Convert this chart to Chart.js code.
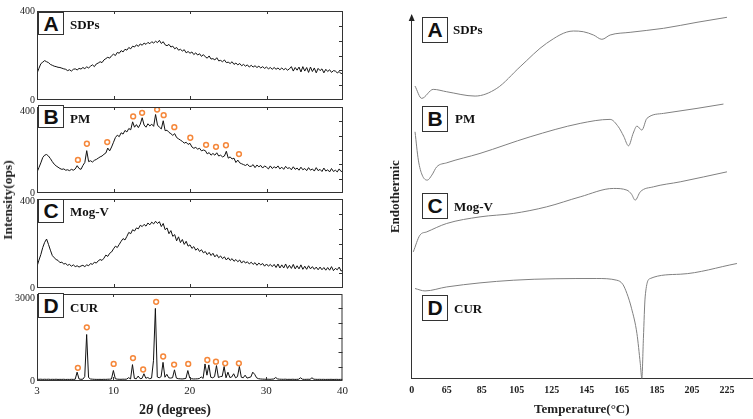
<!DOCTYPE html>
<html>
<head>
<meta charset="utf-8">
<script src="https://cdn.jsdelivr.net/npm/chart.js@4.4.1/dist/chart.umd.min.js"></script>
<style>
body{margin:0;background:#fff;}
#wrap{position:relative;width:753px;height:419px;overflow:hidden;background:#fff;}
canvas{position:absolute;}
.box{position:absolute;box-sizing:border-box;border:1px solid #333;background:#fff;font:bold 21px "Liberation Sans",Arial,sans-serif;color:#111;display:flex;align-items:center;justify-content:center;}
.name{position:absolute;font:bold 13px "Liberation Serif","Times New Roman",serif;color:#111;line-height:1;transform:translateY(-50%);white-space:nowrap;}
.axtitle{position:absolute;font:bold 14px "Liberation Serif","Times New Roman",serif;color:#222;white-space:nowrap;transform:translate(-50%,-50%);}
</style>
</head>
<body>
<div id="wrap">
<canvas id="xrdA" width="352" height="105" style="left:0;top:3px"></canvas>
<canvas id="xrdB" width="352" height="105" style="left:0;top:96px"></canvas>
<canvas id="xrdC" width="352" height="105" style="left:0;top:191px"></canvas>
<canvas id="xrdD" width="352" height="135" style="left:0;top:284px"></canvas>
<canvas id="dsc" width="373" height="419" style="left:380px;top:0"></canvas>

<div class="box" style="left:38px;top:12px;width:26px;height:23px">A</div>
<div class="name" style="left:70px;top:24px">SDPs</div>
<div class="box" style="left:38px;top:105px;width:26px;height:23px">B</div>
<div class="name" style="left:70px;top:118px">PM</div>
<div class="box" style="left:38px;top:199px;width:26px;height:24px">C</div>
<div class="name" style="left:70px;top:211px">Mog-V</div>
<div class="box" style="left:38px;top:293px;width:26px;height:25px">D</div>
<div class="name" style="left:70px;top:307px">CUR</div>

<div class="box" style="left:422px;top:17px;width:26px;height:26px">A</div>
<div class="name" style="left:453px;top:29px">SDPs</div>
<div class="box" style="left:422px;top:106px;width:26px;height:26px">B</div>
<div class="name" style="left:455px;top:118px">PM</div>
<div class="box" style="left:422px;top:193px;width:26px;height:26px">C</div>
<div class="name" style="left:454px;top:206px">Mog-V</div>
<div class="box" style="left:422px;top:295px;width:26px;height:26px">D</div>
<div class="name" style="left:454px;top:308px">CUR</div>

<div class="axtitle" style="left:8px;top:200px;transform:translate(-50%,-50%) rotate(-90deg);font-size:13.5px">Intensity(ops)</div>
<div class="axtitle" style="left:175px;top:410px">2<i>θ</i> (degrees)</div>
</div>

<script>
const serif = '"Liberation Serif","Times New Roman",serif';

// XRD: shared 2-theta grid (axis units), tick labels as printed
const xrdTicks = [0, 10, 20, 30, 40];
const xrdTickLabels = ['3', '10', '20', '30', '40'];
const xrdAngles = [
  0,0.25,0.5,0.75,1,1.25,1.5,1.75,2,2.25,2.5,2.75,3,3.25,3.5,3.75,4,4.25,4.5,4.75,
  5,5.25,5.5,5.75,6,6.25,6.5,6.75,7,7.25,7.5,7.75,8,8.25,8.5,8.75,9,9.25,9.5,9.75,
  10,10.25,10.5,10.75,11,11.25,11.5,11.75,12,12.25,12.5,12.75,13,13.25,13.5,13.75,14,14.25,14.5,14.75,
  15,15.25,15.5,15.75,16,16.25,16.5,16.75,17,17.25,17.5,17.75,18,18.25,18.5,18.75,19,19.25,19.5,19.75,
  20,20.25,20.5,20.75,21,21.25,21.5,21.75,22,22.25,22.5,22.75,23,23.25,23.5,23.75,24,24.25,24.5,24.75,
  25,25.25,25.5,25.75,26,26.25,26.5,26.75,27,27.25,27.5,27.75,28,28.25,28.5,28.75,29,29.25,29.5,29.75,
  30,30.25,30.5,30.75,31,31.25,31.5,31.75,32,32.25,32.5,32.75,33,33.25,33.5,33.75,34,34.25,34.5,34.75,
  35,35.25,35.5,35.75,36,36.25,36.5,36.75,37,37.25,37.5,37.75,38,38.25,38.5,38.75,39,39.25,39.5,39.75,
  40
];

const sdpsXrd = [
  120,142,163,170, 177,172,168,160, 156,152,150,147, 146,143,140,138, 132,136,130,138,
  140,135,142,139, 146,141,149,144, 152,158,150,162, 166,172,168,180, 186,192,188,199,
  206,200,214,210, 222,216,228,224, 236,230,242,238, 248,241,252,246, 256,250,259,253,
  262,256,264,258, 268,254,262,248, 244,250,238,242, 230,236,224,228, 220,226,212,218,
  210,216,204,212, 202,208,196,204, 194,188,198,184, 186,180,190,176, 178,172,180,168,
  170,164,172,160, 166,158,164,154, 160,152,158,148, 156,148,154,146, 152,144,150,142,
  148,140,146,138, 146,138,144,136, 144,136,142,134, 140,150,130,146, 134,148,126,150,
  130,146,124,148, 128,144,122,142, 132,140,122,138, 128,136,124,132, 130,122,128,118,
  124
];

const pmXrd = [
  97,118,140,165, 176,179,172,160, 146,134,126,120, 114,110,112,106, 108,104,110,106,
  112,127,114,110, 128,142,197,146, 150,144,152,156, 162,168,172,180, 186,209,196,214,
  236,258,269,262, 280,274,291,284, 300,294,331,306, 318,304,320,350, 316,306,322,312,
  320,310,365,316, 306,298,336,290, 292,282,276,268, 276,258,252,246, 240,232,236,226,
  231,214,208,212, 204,208,196,200, 197,182,188,176, 184,176,187,172, 176,168,172,194,
  162,168,158,162, 142,153,140,136, 132,128,134,124, 124,132,118,130, 122,128,116,126,
  120,112,126,114, 122,116,126,112, 120,110,124,114, 118,108,122,110, 116,106,120,108,
  114,104,118,106, 112,102,118,104, 110,100,116,102, 108,98,114,100, 106,98,112,100,
  102
];

const mogXrd = [
  97,125,150,182, 205,220,196,170, 146,136,128,124, 114,116,108,110, 102,106,98,104,
  96,100,94,99, 102,96,104,100, 110,106,116,112, 122,128,124,134, 148,142,156,162,
  176,188,182,196, 210,222,216,232, 250,244,262,256, 270,266,282,276, 286,278,292,284,
  296,288,300,290, 298,276,290,262, 270,244,258,232, 240,212,230,204, 218,196,210,188,
  194,178,186,170, 178,164,172,158, 164,150,160,146, 156,140,150,136, 144,132,140,126,
  136,124,132,120, 128,118,126,112, 122,112,118,108, 116,106,114,102, 112,104,110,98,
  108,98,106,96, 106,92,108,90, 104,90,108,88, 102,88,106,86, 100,86,104,84,
  98,84,100,86, 96,84,94,82, 94,82,92,80, 92,80,96,78, 88,82,94,76,
  82
];

const curXrd = [
  60,58,62,56, 60,57,61,55, 58,56,60,54, 57,55,59,53, 56,54,58,55,
  60,304,70,58, 62,150,1603,120, 70,62,58,56, 55,57,54,58, 56,60,62,68,
  362,80,64,60, 58,62,60,66, 115,70,565,90, 75,170,80,90, 250,95,120,80,
  100,700,2503,140, 110,150,643,130, 230,110,100,115, 385,100,80,75, 70,78,90,360,
  100,78,70,72, 75,85,140,90, 588,200,555,130, 110,150,531,120, 150,160,497,110,
  304,120,140,250, 110,150,497,130, 110,200,100,120, 140,304,230,110, 80,70,65,62,
  60,62,58,64, 70,120,72,62, 60,58,62,56, 58,56,60,55, 57,60,110,62,
  56,58,60,57, 110,62,58,56, 58,55,57,54, 56,55,58,54, 55,57,54,56,
  55
];

// orange ring markers (angle, intensity)
const pmRingAngles = [5.35, 6.52, 9.18, 12.57, 13.74, 15.7, 16.56, 17.95, 20.04, 22.1, 23.4, 24.7, 26.4];
const pmRingValues = [154, 229, 237, 356, 373, 388, 362, 306, 257, 224, 215, 222, 181];
const curRingAngles = [5.35, 6.52, 10.04, 12.57, 13.9, 15.6, 16.52, 17.95, 19.8, 22.3, 23.43, 24.64, 26.43];
const curRingValues = [453, 1850, 588, 791, 396, 2729, 845, 565, 588, 724, 666, 609, 609];

// DSC: temperature axis ticks as printed, curves (relative heat flow)
const dscTicks = [45, 65, 85, 105, 125, 145, 165, 185, 205, 225];
const dscTickLabels = ['0', '65', '85', '105', '125', '145', '165', '185', '205', '225'];

const sdpsTemp = [46.9, 50.7, 57.3, 65, 81.2, 93.6, 106.9, 122, 137.3, 143, 148.8, 153.6, 158.3, 169.7, 188.8, 207.9, 225];
const sdpsDsc  = [292, 279.7, 288.7, 286.3, 282, 289.7, 311.3, 334.7, 347, 346.3, 343, 338.7, 343, 345.7, 349.7, 355.7, 360.7];
const pmTemp = [46.9, 48.8, 51, 53.9, 56.5, 59.3, 65, 84, 112.6, 141.2, 158.3, 163, 166, 168.8, 171.5, 173.6, 176.4, 179.3, 188.8, 207.9, 223];
const pmDsc  = [246.3, 218, 203, 198, 203, 211.3, 215.3, 224.7, 241.3, 254.7, 258.7, 251.3, 242, 232.3, 245, 252, 248, 259.7, 264.7, 269.7, 274];
const mogTemp = [45.9, 49.7, 53.6, 65, 84, 103, 122, 141.2, 160.2, 167.9, 170.5, 172.6, 175.5, 183, 198.3, 225];
const mogDsc  = [126.3, 143, 146.3, 154.7, 161.3, 164.7, 171.3, 181.3, 189.7, 188, 184, 178, 186.3, 191.3, 196.3, 206.3];
const curTemp = [46.9, 52.6, 65, 103, 150.7, 162.1, 165.5, 167.9, 170.5, 173.6, 175.5, 176.4, 177.3, 178.3, 181.2, 198.3, 230.7];
const curDsc  = [89.7, 87.3, 91.3, 98, 99.7, 98, 94, 84.7, 70, 44.7, 15, 0, 40, 81.3, 99.7, 104, 114.7];

const toPoints = (xs, ys) => xs.map((x, i) => ({x: x, y: ys[i]}));

// box around each XRD panel with small inward ticks
const frame = {
  id: 'frame',
  afterDatasetsDraw(chart) {
    const {ctx, chartArea: a, scales} = chart;
    ctx.save();
    ctx.strokeStyle = '#333';
    ctx.lineWidth = 1;
    ctx.strokeRect(a.left + 0.5, a.top + 0.5, a.width - 1, a.height - 1);
    ctx.beginPath();
    xrdTicks.slice(1, -1).forEach(v => {
      const px = Math.round(scales.x.getPixelForValue(v)) + 0.5;
      ctx.moveTo(px, a.bottom); ctx.lineTo(px, a.bottom - 4);
      ctx.moveTo(px, a.top); ctx.lineTo(px, a.top + 3);
    });
    const yMax = scales.y.max;
    for (let k = 1; k < 6; k++) {
      const py = Math.round(scales.y.getPixelForValue(yMax * k / 6)) + 0.5;
      ctx.moveTo(a.right, py); ctx.lineTo(a.right - 4, py);
    }
    ctx.stroke();
    ctx.restore();
  }
};

// topShift: how far the top y label sits below the panel's top edge
function xrdChart(id, vals, ringX, ringY, yMax, topShift, showX) {
  const sets = [{data: toPoints(xrdAngles, vals), borderColor: '#111', borderWidth: 1, pointRadius: 0, tension: 0}];
  if (ringX) {
    sets.push({data: toPoints(ringX, ringY), showLine: false, pointRadius: 2.4, pointBorderWidth: 1.5,
               pointBorderColor: '#f5873a', pointBackgroundColor: 'rgba(0,0,0,0)', borderColor: '#f5873a'});
  }
  return new Chart(document.getElementById(id), {
    type: 'line',
    data: {datasets: sets},
    options: {
      responsive: false, animation: false, events: [],
      layout: {padding: {top: 8, bottom: showX ? 0 : 8, left: 0, right: 9}},
      plugins: {legend: {display: false}, tooltip: {enabled: false}},
      scales: {
        x: {
          type: 'linear', min: 0, max: 40, display: showX,
          afterBuildTicks: s => { s.ticks = xrdTicks.map(v => ({value: v})); },
          afterFit: s => { if (showX) s.height = 38; },
          grid: {display: false, drawTicks: false}, border: {display: false},
          ticks: {padding: 4, color: '#222', maxRotation: 0, autoSkip: false, font: {family: serif, size: 11},
                  callback: (v, i) => xrdTickLabels[i]}
        },
        y: {
          min: 0, max: yMax,
          afterBuildTicks: s => { s.ticks = [{value: 0}, {value: yMax}]; },
          afterFit: s => { s.width = 37; },
          grid: {display: false, drawTicks: false}, border: {display: false},
          ticks: {padding: 2, color: '#222', autoSkip: false,
                  font: {family: serif, size: 10, lineHeight: topShift ? (2 * topShift) + 'px' : 1.2},
                  callback: v => (v === yMax && topShift) ? ['', String(v)] : String(v)}
        }
      }
    },
    plugins: [frame]
  });
}

xrdChart('xrdA', sdpsXrd, null, null, 400, 0, false);
xrdChart('xrdB', pmXrd, pmRingAngles, pmRingValues, 400, 4.5, false);
xrdChart('xrdC', mogXrd, null, null, 400, 2, false);
xrdChart('xrdD', curXrd, curRingAngles, curRingValues, 3000, 4, true);

// arrow head on the DSC vertical axis
const arrow = {
  id: 'arrow',
  afterDraw(chart) {
    const {ctx, chartArea: a} = chart;
    const x = a.left;
    ctx.save();
    ctx.fillStyle = '#222';
    ctx.beginPath();
    ctx.moveTo(x, a.top - 1);
    ctx.lineTo(x - 3, a.top + 6);
    ctx.lineTo(x + 3, a.top + 6);
    ctx.closePath();
    ctx.fill();
    ctx.restore();
  }
};

const dscLine = {borderColor: '#808080', borderWidth: 1, pointRadius: 0, cubicInterpolationMode: 'monotone', clip: false};

new Chart(document.getElementById('dsc'), {
  type: 'line',
  data: {datasets: [
    Object.assign({data: toPoints(sdpsTemp, sdpsDsc)}, dscLine),
    Object.assign({data: toPoints(pmTemp, pmDsc)}, dscLine),
    Object.assign({data: toPoints(mogTemp, mogDsc)}, dscLine),
    Object.assign({data: toPoints(curTemp, curDsc)}, dscLine)
  ]},
  options: {
    responsive: false, animation: false, events: [],
    layout: {padding: {top: 15, right: 1, left: 0, bottom: 0}},
    plugins: {legend: {display: false}, tooltip: {enabled: false}},
    scales: {
      x: {
        type: 'linear', min: 45, max: 239.3,
        afterBuildTicks: s => { s.ticks = dscTicks.map(v => ({value: v})); },
        afterFit: s => { s.height = 40.7; },
        grid: {display: false, drawTicks: false},
        border: {display: true, color: '#333', width: 1},
        ticks: {padding: 6, color: '#222', maxRotation: 0, autoSkip: false, font: {family: serif, size: 10, weight: 'bold'},
                callback: (v, i) => dscTickLabels[i]},
        title: {display: true, text: 'Temperature(°C)', color: '#222',
                font: {family: serif, size: 13, weight: 'bold'}, padding: {top: 0, bottom: 2}}
      },
      y: {
        min: 0, max: 363,
        afterFit: s => { s.width = 31.7; },
        grid: {display: false, drawTicks: false},
        border: {display: true, color: '#333', width: 1},
        ticks: {display: false},
        title: {display: true, text: 'Endothermic', color: '#222',
                font: {family: serif, size: 13, weight: 'bold'}, padding: {top: 8, bottom: 0}}
      }
    }
  },
  plugins: [arrow]
});
</script>
</body>
</html>
